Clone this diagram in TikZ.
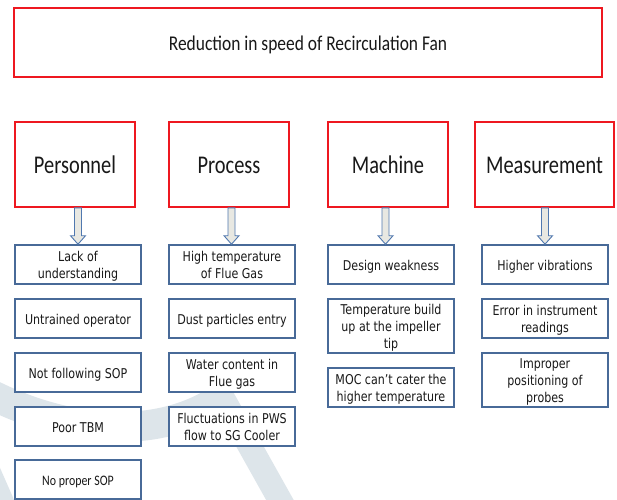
\documentclass[tikz,border=0pt]{standalone}
\usepackage{fontspec}
\usepackage{graphicx}
\setmainfont{DejaVu Sans}
\newfontfamily\calfont{Carlito}
\usetikzlibrary{calc}
\definecolor{redc}{RGB}{238,24,32}
\definecolor{bluec}{RGB}{72,106,152}
\definecolor{arrowfill}{RGB}{232,232,226}
\definecolor{arrowline}{RGB}{80,120,175}
\definecolor{wmark}{RGB}{221,229,234}
\definecolor{textc}{RGB}{25,25,25}
\newcommand\tb[2][0.82]{\raisebox{-2.5pt}[\height][\depth]{\scalebox{#1}[1]{\begin{tabular}{@{}c@{}}#2\end{tabular}}}}
\newcommand\barrow[3][0pt]{%
  \draw[arrowst] let \p1=(#2.south), \p2=(#3.north) in
  ({\x2+#1-3.5pt},\y1) -- ({\x2+#1+3.5pt},\y1) -- ({\x2+#1+3.5pt},{\y2+8.5pt})
  -- ({\x2+#1+7.5pt},{\y2+8.5pt}) -- ({\x2+#1},{\y2}) -- ({\x2+#1-7.5pt},{\y2+8.5pt})
  -- ({\x2+#1-3.5pt},{\y2+8.5pt}) -- cycle;}
\begin{document}
\begin{tikzpicture}[x=1pt,y=-1pt,
  redbox/.style={draw=redc, line width=1.6pt, fill=white, inner sep=0pt, text=textc},
  catbox/.style={redbox, minimum height=85pt, font=\calfont\fontsize{25.5}{30}\selectfont},
  causebox/.style={draw=bluec, line width=1.6pt, fill=white, inner sep=0pt, minimum width=126pt, text=textc, font=\fontsize{13.5}{17}\selectfont},
  arrowst/.style={draw=arrowline, line width=0.9pt, fill=arrowfill, line join=miter},
  wm/.style={draw=wmark, line cap=butt}]
\useasboundingbox (0,0) rectangle (617,499);
\fill[white] (0,0) rectangle (617,499);
% watermark
\draw[wm, line width=30pt] (-30,383) .. controls (60,436) and (160,442) .. (224,396);
\draw[wm, line width=24pt] (206,368) -- (290,518);
\draw[wm, line width=14pt] (-12,458) -- (10,508);
% top
\node[redbox, minimum width=588pt, minimum height=69pt, font=\calfont\fontsize{21}{25}\selectfont] (top) at (308,42.5) {\tb[0.83]{Reduction in speed of Recirculation Fan}};
% categories
\node[catbox, minimum width=120pt] (c1) at (75,164.5) {\tb[0.8]{Personnel}};
\node[catbox, minimum width=120pt] (c2) at (229,164.5) {\tb[0.8]{Process}};
\node[catbox, minimum width=120pt] (c3) at (388,164.5) {\tb[0.8]{Machine}};
\node[catbox, minimum width=139pt] (c4) at (544.5,164.5) {\tb[0.8]{Measurement}};
% column 1
\node[causebox, minimum height=39pt] (a1) at (78,264.5) {\tb{Lack of\\understanding}};
\node[causebox, minimum height=39pt] (a2) at (78,318.5) {\tb{Untrained operator}};
\node[causebox, minimum height=39pt] (a3) at (78,372.5) {\tb{Not following SOP}};
\node[causebox, minimum height=39pt] (a4) at (78,426.5) {\tb{Poor TBM}};
\node[causebox, minimum height=39pt, font=\calfont\fontsize{14.5}{17}\selectfont] (a5) at (78,479.5) {\tb{No proper SOP}};
% column 2
\node[causebox, minimum height=39pt] (b1) at (232,264.5) {\tb{High temperature\\of Flue Gas}};
\node[causebox, minimum height=39pt] (b2) at (232,318.5) {\tb{Dust particles entry}};
\node[causebox, minimum height=39pt] (b3) at (232,372.5) {\tb{Water content in\\Flue gas}};
\node[causebox, minimum height=39pt] (b4) at (232,426.5) {\tb{Fluctuations in PWS\\flow to SG Cooler}};
% column 3
\node[causebox, minimum height=39pt] (m1) at (391,264.5) {\tb{Design weakness}};
\node[causebox, minimum height=54pt] (m2) at (391,326) {\tb{Temperature build\\up at the impeller\\tip}};
\node[causebox, minimum height=39pt] (m3) at (391,387.5) {\tb{MOC can’t cater the\\higher temperature}};
% column 4
\node[causebox, minimum height=39pt] (s1) at (545,264.5) {\tb{Higher vibrations}};
\node[causebox, minimum height=39pt] (s2) at (545,318.5) {\tb{Error in instrument\\readings}};
\node[causebox, minimum height=54pt] (s3) at (545,380) {\tb{Improper\\positioning of\\probes}};
% arrows
\barrow{c1}{a1}
\barrow[-0.5pt]{c2}{b1}
\barrow[-5.5pt]{c3}{m1}
\barrow{c4}{s1}
\end{tikzpicture}
\end{document}
